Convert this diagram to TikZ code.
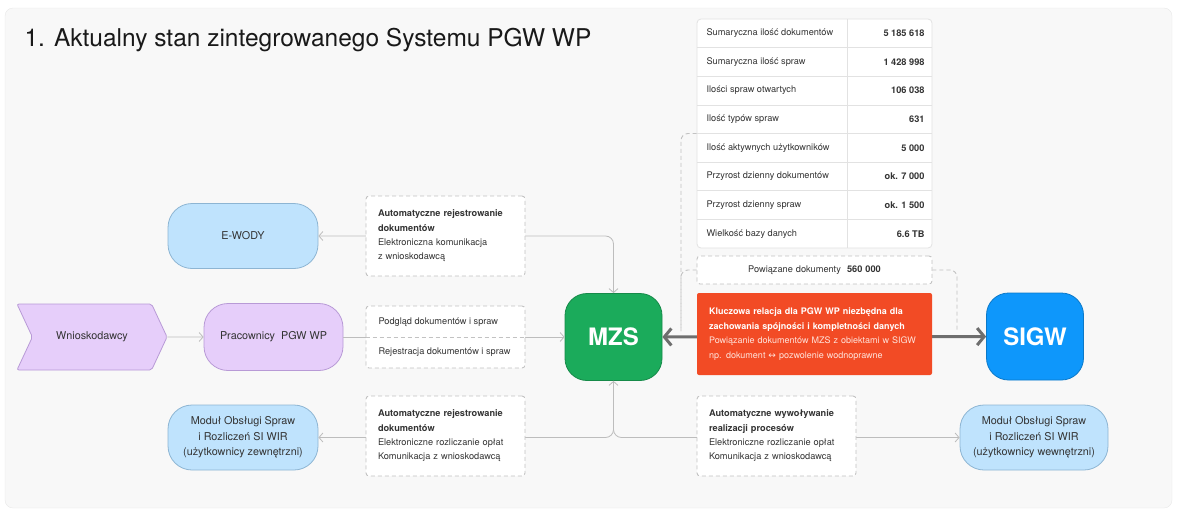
\documentclass[tikz,border=0pt]{standalone}
\usepackage{fontspec}
\setmainfont{TeX Gyre Heros}
\newfontfamily\arrowfont{DejaVu Sans}
\usetikzlibrary{positioning,arrows.meta,calc,shapes.symbols}

\definecolor{bgfill}{HTML}{F8F8F8}
\definecolor{bgline}{HTML}{E8E8E8}
\definecolor{txt}{HTML}{333333}
\definecolor{lightblue}{HTML}{BFE3FD}
\definecolor{blueline}{HTML}{8DB5D3}
\definecolor{lilac}{HTML}{E6CEFA}
\definecolor{lilacline}{HTML}{B89AD6}
\definecolor{mzsgreen}{HTML}{1BAB5B}
\definecolor{mzsline}{HTML}{168A49}
\definecolor{sigwblue}{HTML}{0E97FB}
\definecolor{sigwline}{HTML}{0B79C9}
\definecolor{keyred}{HTML}{F24B25}
\definecolor{keytxt}{HTML}{FFE2DA}
\definecolor{wire}{HTML}{BDBDBD}
\definecolor{dashline}{HTML}{C2C2C2}
\definecolor{thickwire}{HTML}{6E6E6E}
\definecolor{tabline}{HTML}{E2E2E2}

\tikzset{
    x=1pt,
    y=-1pt,
    >={Straight Barb[length=4pt,width=9pt]},
    small/.style = {
        font=\fontsize{9.2}{14.3}\selectfont,
        text=txt
    },
    actor/.style = {
        draw=blueline,
        fill=lightblue,
        shape=rectangle,
        rounded corners=24pt,
        minimum width=150pt,
        minimum height=65pt,
        align=center,
        text=txt,
        font=\fontsize{10.8}{15.5}\selectfont,
        line width=0.8pt
    },
    people/.style = {
        actor,
        draw=lilacline,
        fill=lilac
    },
    system/.style = {
        shape=rectangle,
        rounded corners=22pt,
        minimum width=97pt,
        minimum height=87pt,
        text=white,
        font=\fontsize{24}{28}\selectfont\bfseries,
        line width=0.8pt
    },
    note/.style = {
        small,
        draw=dashline,
        dash pattern=on 4pt off 3pt,
        fill=white,
        shape=rectangle,
        rounded corners=3pt,
        text width=135pt,
        inner xsep=12pt,
        minimum height=80pt,
        align=left,
        line width=0.9pt
    },
    wire/.style = {
        draw=wire,
        line width=0.8pt,
        rounded corners=8pt
    },
    dashlink/.style = {
        draw=dashline,
        dash pattern=on 4pt off 3pt,
        line width=0.9pt,
        rounded corners=7pt
    },
    rowlabel/.style = {small, anchor=west},
    rowvalue/.style = {small, anchor=east, font=\fontsize{9.2}{14.3}\selectfont\bfseries}
}

\begin{document}
\begin{tikzpicture}
    \useasboundingbox (0,0) rectangle (1177,514);
    \path[draw=bgline, fill=bgfill, rounded corners=8pt] (5,8) rectangle (1172,508);

    \node[anchor=base west, text=black!90, font=\fontsize{24.5}{28}\selectfont] (title) at (21,46)
        {1. Aktualny stan zintegrowanego Systemu PGW WP};

    % glowne systemy
    \node[system, draw=mzsline, fill=mzsgreen] (mzs) at (613.5,337) {MZS};
    \node[system, draw=sigwline, fill=sigwblue] (sigw) at (1035,336.5) {SIGW};

    % aktorzy
    \node[actor] (ewody) at (243,236) {E-WODY};
    \node[people, shape=signal, signal from=west, signal to=east, signal pointer angle=130,
        rounded corners=2pt, minimum width=150pt, minimum height=66pt] (wnio) at (92,337) {Wnioskodawcy};
    \node[people, minimum width=139pt, minimum height=67pt] (prac) at (273.5,337) {Pracownicy~ PGW WP};
    \node[actor] (modl) at (243,437.5) {Moduł Obsługi Spraw\\ i Rozliczeń SI WIR\\ (użytkownicy zewnętrzni)};
    \node[actor, minimum width=148pt] (modr) at (1034,437.5) {Moduł Obsługi Spraw\\ i Rozliczeń SI WIR\\ (użytkownicy wewnętrzni)};

    % polaczenia
    \path[wire, <->] (ewody.east) -| (mzs.north);
    \path[wire, ->] (wnio) -- (prac);
    \path[wire, ->] (prac) -- (mzs);
    \path[wire, <->] (mzs.south) |- (modl.east);
    \path[wire, ->] (mzs.south) |- (modr.west);
    \path[draw=thickwire, line width=3pt,
        {Straight Barb[length=7pt,width=17pt]}-{Straight Barb[length=7pt,width=17pt]}] (mzs) -- (sigw);

    % opisy
    \node[note] (n1) at (445.5,236) {\textbf{Automatyczne rejestrowanie}\\ \textbf{dokumentów}\\ Elektroniczna komunikacja\\ z wnioskodawcą};
    \node[note, minimum height=62pt] (n2) at (445.5,337) {};
    \path[draw=dashline, dash pattern=on 4pt off 3pt, line width=0.9pt] (n2.west) -- (n2.east);
    \node[small, anchor=west] (n2a) at (375,322) {Podgląd dokumentów i spraw};
    \node[small, anchor=west] (n2b) at (375,352) {Rejestracja dokumentów i spraw};
    \node[note] (n3) at (445.5,436) {\textbf{Automatyczne rejestrowanie}\\ \textbf{dokumentów}\\ Elektroniczne rozliczanie opłat\\ Komunikacja z wnioskodawcą};
    \node[note] (n4) at (776.5,436) {\textbf{Automatyczne wywoływanie}\\ \textbf{realizacji procesów}\\ Elektroniczne rozliczanie opłat\\ Komunikacja z wnioskodawcą};

    % tabela
    \node[draw=tabline, fill=white, rounded corners=4pt, line width=0.8pt,
        minimum width=235pt, minimum height=229pt] (tab) at (814.5,133.5) {};
    \path[draw=tabline, line width=0.8pt] (847,19) -- (847,248);
    \path[draw=tabline, line width=0.8pt] (697,47.6) -- (932,47.6);
    \path[draw=tabline, line width=0.8pt] (697,76.3) -- (932,76.3);
    \path[draw=tabline, line width=0.8pt] (697,104.9) -- (932,104.9);
    \path[draw=tabline, line width=0.8pt] (697,133.5) -- (932,133.5);
    \path[draw=tabline, line width=0.8pt] (697,162.1) -- (932,162.1);
    \path[draw=tabline, line width=0.8pt] (697,190.8) -- (932,190.8);
    \path[draw=tabline, line width=0.8pt] (697,219.4) -- (932,219.4);

    \node[rowlabel] (r1) at (703,33.3) {Sumaryczna ilość dokumentów};
    \node[rowvalue] (v1) at (928,33.3) {5 185 618};
    \node[rowlabel] (r2) at (703,61.9) {Sumaryczna ilość spraw};
    \node[rowvalue] (v2) at (928,61.9) {1 428 998};
    \node[rowlabel] (r3) at (703,90.6) {Ilości spraw otwartych};
    \node[rowvalue] (v3) at (928,90.6) {106 038};
    \node[rowlabel] (r4) at (703,119.2) {Ilość typów spraw};
    \node[rowvalue] (v4) at (928,119.2) {631};
    \node[rowlabel] (r5) at (703,147.8) {Ilość aktywnych użytkowników};
    \node[rowvalue] (v5) at (928,147.8) {5 000};
    \node[rowlabel] (r6) at (703,176.4) {Przyrost dzienny dokumentów};
    \node[rowvalue] (v6) at (928,176.4) {ok. 7 000};
    \node[rowlabel] (r7) at (703,205.1) {Przyrost dzienny spraw};
    \node[rowvalue] (v7) at (928,205.1) {ok. 1 500};
    \node[rowlabel] (r8) at (703,233.7) {Wielkość bazy danych};
    \node[rowvalue] (v8) at (928,233.7) {6.6 TB};

    \node[note, text width=211pt, minimum height=28pt, align=center] (pow) at (814.5,270)
        {Powiązane dokumenty~ \textbf{560 000}};

    \coordinate (lk) at (681,331);
    \coordinate (rk) at (957,331);
    \path[dashlink] (tab.west) -| (lk);
    \path[dashlink] (pow.west) -| (lk);
    \path[dashlink] (pow.east) -| (rk);

    % kluczowa relacja
    \node[fill=keyred, rounded corners=2pt, minimum width=235pt, minimum height=82pt,
        text width=211pt, inner xsep=11pt, align=left, text=keytxt,
        font=\fontsize{9}{14.6}\selectfont] (key) at (814.5,334)
        {\textcolor{white}{\textbf{Kluczowa relacja dla PGW WP niezbędna dla}}\\
         \textcolor{white}{\textbf{zachowania spójności i kompletności danych}}\\
         Powiązanie dokumentów MZS z obiektami w SIGW\\
         np. dokument {\arrowfont ↔} pozwolenie wodnoprawne};
\end{tikzpicture}
\end{document}
